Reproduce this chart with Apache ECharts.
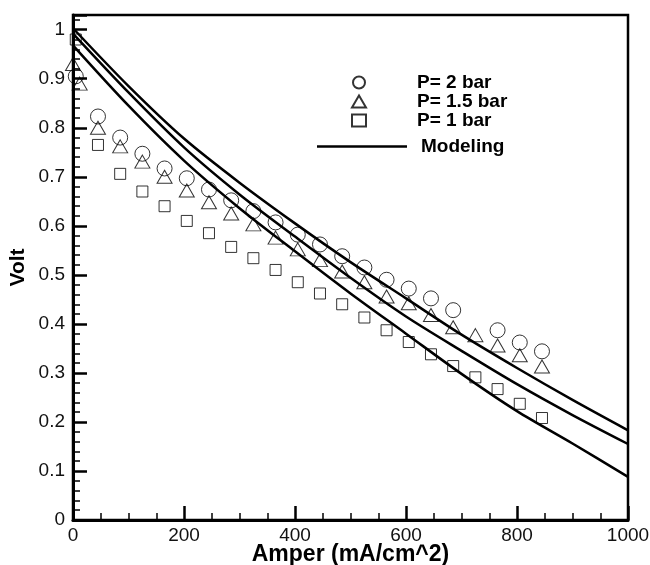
<!DOCTYPE html>
<html>
<head>
<meta charset="utf-8">
<script src="https://cdn.jsdelivr.net/npm/echarts@6/dist/echarts.min.js"></script>
<style>
  html, body { margin: 0; padding: 0; background: #fff; }
  #chart { width: 650px; height: 565px; }
</style>
</head>
<body>
<div id="chart"></div>
<script>
// measured points (current density mA/cm^2)
const xMeas = [5, 45, 85, 125, 165, 205, 245, 285, 325, 365, 405, 445, 485, 525, 565, 605, 645, 685, 725, 765, 805, 845];

// P = 2 bar (no reading at 725)
const volt2 = [0.905, 0.823, 0.78, 0.747, 0.717, 0.697, 0.674, 0.652, 0.63, 0.607, 0.582, 0.562, 0.538, 0.515, 0.49, 0.472, 0.452, 0.428, null, 0.387, 0.362, 0.344];
// P = 1.5 bar (extra reading near zero)
const xMeas15 = [0, 12, 45, 85, 125, 165, 205, 245, 285, 325, 365, 405, 445, 485, 525, 565, 605, 645, 685, 725, 765, 805, 845];
const volt15 = [0.93, 0.89, 0.80, 0.762, 0.731, 0.70, 0.672, 0.648, 0.625, 0.603, 0.576, 0.552, 0.53, 0.507, 0.485, 0.456, 0.442, 0.418, 0.393, 0.377, 0.356, 0.336, 0.313];
// P = 1 bar
const volt1 = [0.98, 0.765, 0.706, 0.67, 0.64, 0.61, 0.585, 0.557, 0.534, 0.51, 0.485, 0.462, 0.44, 0.413, 0.387, 0.363, 0.338, 0.314, 0.291, 0.267, 0.237, 0.208];

// model curves
const xModel = [0, 100, 200, 300, 400, 500, 600, 700, 800, 900, 1000];
const model2 = [1.003, 0.885, 0.778, 0.688, 0.605, 0.526, 0.452, 0.378, 0.31, 0.245, 0.183];
const model15 = [0.992, 0.872, 0.76, 0.664, 0.578, 0.494, 0.415, 0.345, 0.277, 0.214, 0.155];
const model1 = [0.968, 0.845, 0.733, 0.636, 0.548, 0.462, 0.38, 0.298, 0.222, 0.156, 0.088];

const pair = (xs, ys) => xs.map((x, i) => [x, ys[i]]).filter(p => p[1] !== null);

const chart = echarts.init(document.getElementById('chart'));
const font = 'Liberation Sans, Arial, sans-serif';

const hollow = { color: 'rgba(0,0,0,0)', borderColor: '#000', borderWidth: 1 };
const legendText = { fontSize: 19, lineHeight: 18, fontWeight: 'bold', color: '#000', fontFamily: font };

const modelLine = (data) => ({
    name: 'Modeling',
    type: 'line',
    smooth: 0.3,
    symbol: 'none',
    lineStyle: { color: '#000', width: 2.5 },
    itemStyle: { color: '#000' },
    data: data,
    z: 3
});

chart.setOption({
    animation: false,
    backgroundColor: '#fff',
    textStyle: { fontFamily: font },
    grid: {
        left: 73, right: 22, top: 15, bottom: 45,
        outerBoundsMode: 'none', containLabel: false,
        show: true, borderColor: '#000', borderWidth: 2.5
    },
    legend: [
        {
            data: ['P= 2 bar', 'P= 1.5 bar', 'P= 1 bar'],
            orient: 'vertical',
            left: 346,
            top: 68,
            itemWidth: 14,
            itemHeight: 12,
            itemGap: 0,
            selectedMode: false,
            textStyle: Object.assign({ padding: [0, 0, 0, 46] }, legendText)
        },
        {
            data: [{ name: 'Modeling', icon: 'rect' }],
            orient: 'vertical',
            left: 312,
            top: 132,
            itemWidth: 90,
            itemHeight: 2.5,
            selectedMode: false,
            itemStyle: { color: '#000' },
            textStyle: Object.assign({ padding: [0, 0, 0, 9] }, legendText)
        }
    ],
    xAxis: {
        type: 'value',
        min: 0,
        max: 1000,
        interval: 200,
        name: 'Amper (mA/cm^2)',
        nameLocation: 'middle',
        nameGap: 23,
        nameMoveOverlap: false,
        nameTextStyle: { fontSize: 23, fontWeight: 'bold', color: '#000', fontFamily: font },
        axisLine: { lineStyle: { color: '#000', width: 3 } },
        axisTick: { inside: true, length: 14, lineStyle: { color: '#000', width: 2.5 } },
        minorTick: { show: true, splitNumber: 4, length: 7, lineStyle: { color: '#000', width: 1.5 } },
        axisLabel: { fontSize: 19, color: '#111', margin: 6, fontFamily: font, formatter: v => String(v) },
        splitLine: { show: false }
    },
    yAxis: {
        type: 'value',
        min: 0,
        max: 1.03,
        interval: 0.1,
        name: 'Volt',
        nameLocation: 'middle',
        nameGap: 44,
        nameMoveOverlap: false,
        nameTextStyle: { fontSize: 21, fontWeight: 'bold', color: '#000', fontFamily: font },
        axisLine: { lineStyle: { color: '#000', width: 3 } },
        axisTick: { inside: true, length: 14, lineStyle: { color: '#000', width: 2.5 } },
        minorTick: { show: true, splitNumber: 5, length: 7, lineStyle: { color: '#000', width: 1.5 } },
        axisLabel: { fontSize: 19, color: '#111', margin: 8, showMaxLabel: false, fontFamily: font },
        splitLine: { show: false }
    },
    series: [
        {
            name: 'P= 2 bar',
            type: 'scatter',
            symbol: 'circle',
            symbolSize: 15,
            itemStyle: hollow,
            data: pair(xMeas, volt2),
            z: 4
        },
        {
            name: 'P= 1.5 bar',
            type: 'scatter',
            symbol: 'triangle',
            symbolSize: [15, 13],
            itemStyle: hollow,
            data: pair(xMeas15, volt15),
            z: 4
        },
        {
            name: 'P= 1 bar',
            type: 'scatter',
            symbol: 'rect',
            symbolSize: 11,
            itemStyle: hollow,
            data: pair(xMeas, volt1),
            z: 4
        },
        modelLine(pair(xModel, model2)),
        modelLine(pair(xModel, model15)),
        modelLine(pair(xModel, model1))
    ]
});
</script>
</body>
</html>
